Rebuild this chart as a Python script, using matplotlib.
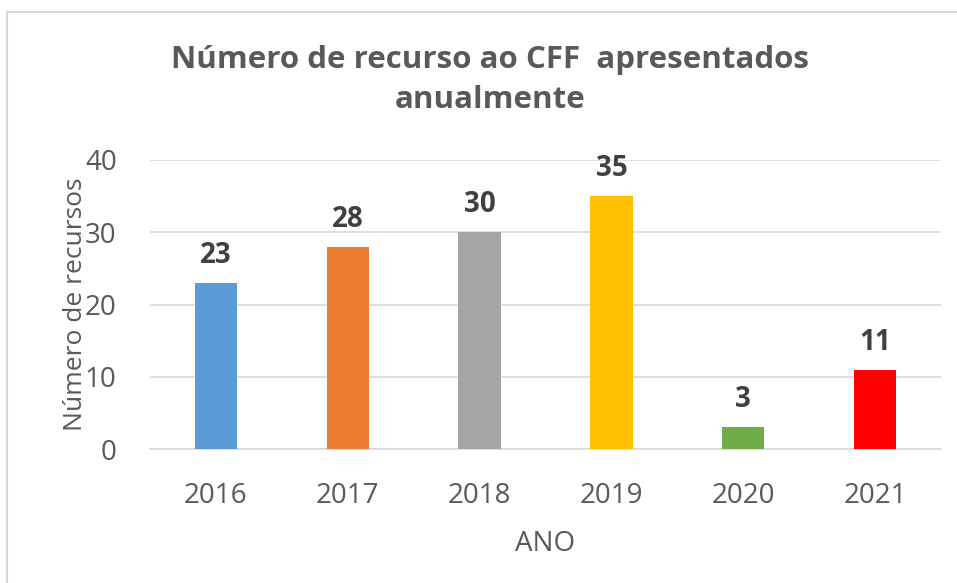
import matplotlib
matplotlib.use("Agg")
import matplotlib.pyplot as plt
from matplotlib.patches import Rectangle

anos = ['2016', '2017', '2018', '2019', '2020', '2021']
recursos = [23, 28, 30, 35, 3, 11]
cores = ['#5B9BD5', '#ED7D31', '#A5A5A5', '#FFC000', '#70AD47', '#FF0000']

plt.rcParams['font.family'] = ['Open Sans', 'DejaVu Sans']

fig = plt.figure(figsize=(9.57, 5.83), dpi=100)
# moldura do grafico (cinza claro, sai pela direita e por baixo)
fig.patches.append(Rectangle((7 / 957, -0.1), 1.2, 1 - 12 / 583 + 0.1,
                             transform=fig.transFigure, fill=False,
                             edgecolor='#d9d9d9', linewidth=1.5))

ax = fig.add_axes([150 / 957, 1 - 449 / 583, 791 / 957, 289 / 583])
x = range(len(anos))
ax.bar(x, recursos, width=0.32, color=cores, zorder=3)
for i, v in enumerate(recursos):
    ax.text(i, v + 1.8, str(v), ha='center', va='bottom', fontsize=20,
            fontweight='bold', color='#404040')

ax.set_xlim(-0.5, len(anos) - 0.5)
ax.set_ylim(0, 40)
ax.set_yticks([0, 10, 20, 30, 40])
ax.set_xticks(list(x))
ax.set_xticklabels(anos)
ax.tick_params(length=0, labelsize=20, colors='#595959')
ax.tick_params(axis='x', pad=24)
ax.tick_params(axis='y', pad=24)
ax.grid(axis='y', color='#d9d9d9', linewidth=1.2, zorder=0)
for s in ['top', 'right', 'left']:
    ax.spines[s].set_visible(False)
ax.spines['bottom'].set_color('#d9d9d9')
ax.spines['bottom'].set_linewidth(1.2)

ax.set_xlabel('ANO', fontsize=20, color='#595959', labelpad=14)
ax.set_ylabel('Número de recursos', fontsize=19, color='#595959', labelpad=-2)

fig.text(490 / 957, 1 - 80 / 583, 'Número de recurso ao CFF  apresentados\nanualmente',
         ha='center', va='center', fontsize=22.5, fontweight='bold',
         color='#595959', linespacing=1.4)

fig.savefig('out.png', dpi=100)
